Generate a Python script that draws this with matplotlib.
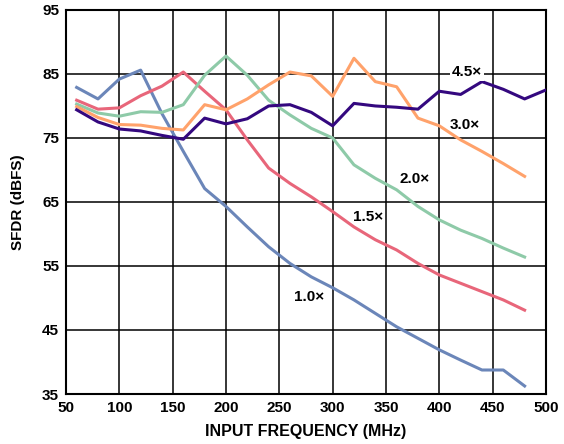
import matplotlib
matplotlib.use('Agg')
import matplotlib.pyplot as plt

plt.rcParams['font.family'] = ['Liberation Sans', 'DejaVu Sans']
plt.rcParams['font.weight'] = 'bold'

# input frequency (MHz) for every curve
freq = [60, 80, 100, 120, 140, 160, 180, 200, 220, 240, 260, 280,
        300, 320, 340, 360, 380, 400, 420, 440, 460, 480]
freq_45 = freq + [500]

# SFDR (dBFS) per interpolation setting
sfdr_10 = [82.9, 81.1, 84.2, 85.6, 78.8, 72.9, 67.1, 64.3, 61.1, 58.0, 55.4, 53.3,
           51.6, 49.7, 47.6, 45.5, 43.7, 41.9, 40.3, 38.75, 38.75, 36.25]
sfdr_15 = [80.9, 79.5, 79.7, 81.6, 83.1, 85.3, 82.3, 79.4, 74.7, 70.3, 67.9, 65.8,
           63.5, 61.1, 59.1, 57.5, 55.4, 53.6, 52.3, 51.0, 49.7, 48.1]
sfdr_20 = [80.3, 78.9, 78.4, 79.1, 79.0, 80.2, 84.8, 87.8, 84.8, 80.9, 78.6, 76.5,
           75.0, 70.8, 68.7, 66.9, 64.3, 62.2, 60.6, 59.3, 57.8, 56.4]
sfdr_30 = [79.9, 78.2, 77.1, 77.0, 76.5, 76.25, 80.2, 79.4, 81.1, 83.3, 85.3, 84.7,
           81.5, 87.45, 83.8, 83.0, 78.1, 76.9, 74.7, 72.9, 71.0, 69.0]
sfdr_45 = [79.4, 77.5, 76.4, 76.1, 75.4, 74.8, 78.1, 77.2, 78.0, 80.0, 80.2, 79.0,
           76.9, 80.4, 80.0, 79.8, 79.5, 82.3, 81.8, 83.8, 82.6, 81.1, 82.5]

fig = plt.figure(figsize=(5.64, 4.44), dpi=100)
ax = fig.add_axes([0.117, 0.1126, 0.851, 0.865])

lw = 2.2
ax.plot(freq, sfdr_10, color='#6b86b9', lw=lw, zorder=3)
ax.plot(freq, sfdr_15, color='#e8667a', lw=lw, zorder=3)
ax.plot(freq, sfdr_20, color='#8ecaa8', lw=lw, zorder=3)
ax.plot(freq, sfdr_30, color='#ffa26b', lw=lw, zorder=3)
ax.plot(freq_45, sfdr_45, color='#34087f', lw=lw, zorder=4)

# curve labels
lab = dict(fontsize=11, fontweight='bold', ha='center', va='center', zorder=5)
ax.text(426, 85.3, '4.5×', bbox=dict(facecolor='white', edgecolor='none', pad=1.5), **lab)
ax.text(424, 77.0, '3.0×', **lab)
ax.text(377, 68.6, '2.0×', **lab)
ax.text(333.6, 62.6, '1.5×', **lab)
ax.text(278.3, 50.1, '1.0×', **lab)

ax.set_xlim(50, 500)
ax.set_ylim(35, 95)
ax.set_xticks(range(50, 501, 50))
ax.set_yticks(range(35, 96, 10))
ax.grid(True, color='black', lw=1.1, zorder=1)
ax.tick_params(length=0, labelsize=11, pad=5)
for lbl in ax.get_xticklabels() + ax.get_yticklabels():
    lbl.set_fontweight('bold')
for s in ax.spines.values():
    s.set_linewidth(1.5)
    s.set_color('black')

ax.set_xlabel('INPUT FREQUENCY (MHz)', fontsize=11.5, fontweight='bold')
ax.set_ylabel('SFDR (dBFS)', fontsize=11, fontweight='bold')
ax.xaxis.set_label_coords(0.5, -0.078)
ax.yaxis.set_label_coords(-0.085, 0.5)

fig.savefig('out.png', dpi=100)
